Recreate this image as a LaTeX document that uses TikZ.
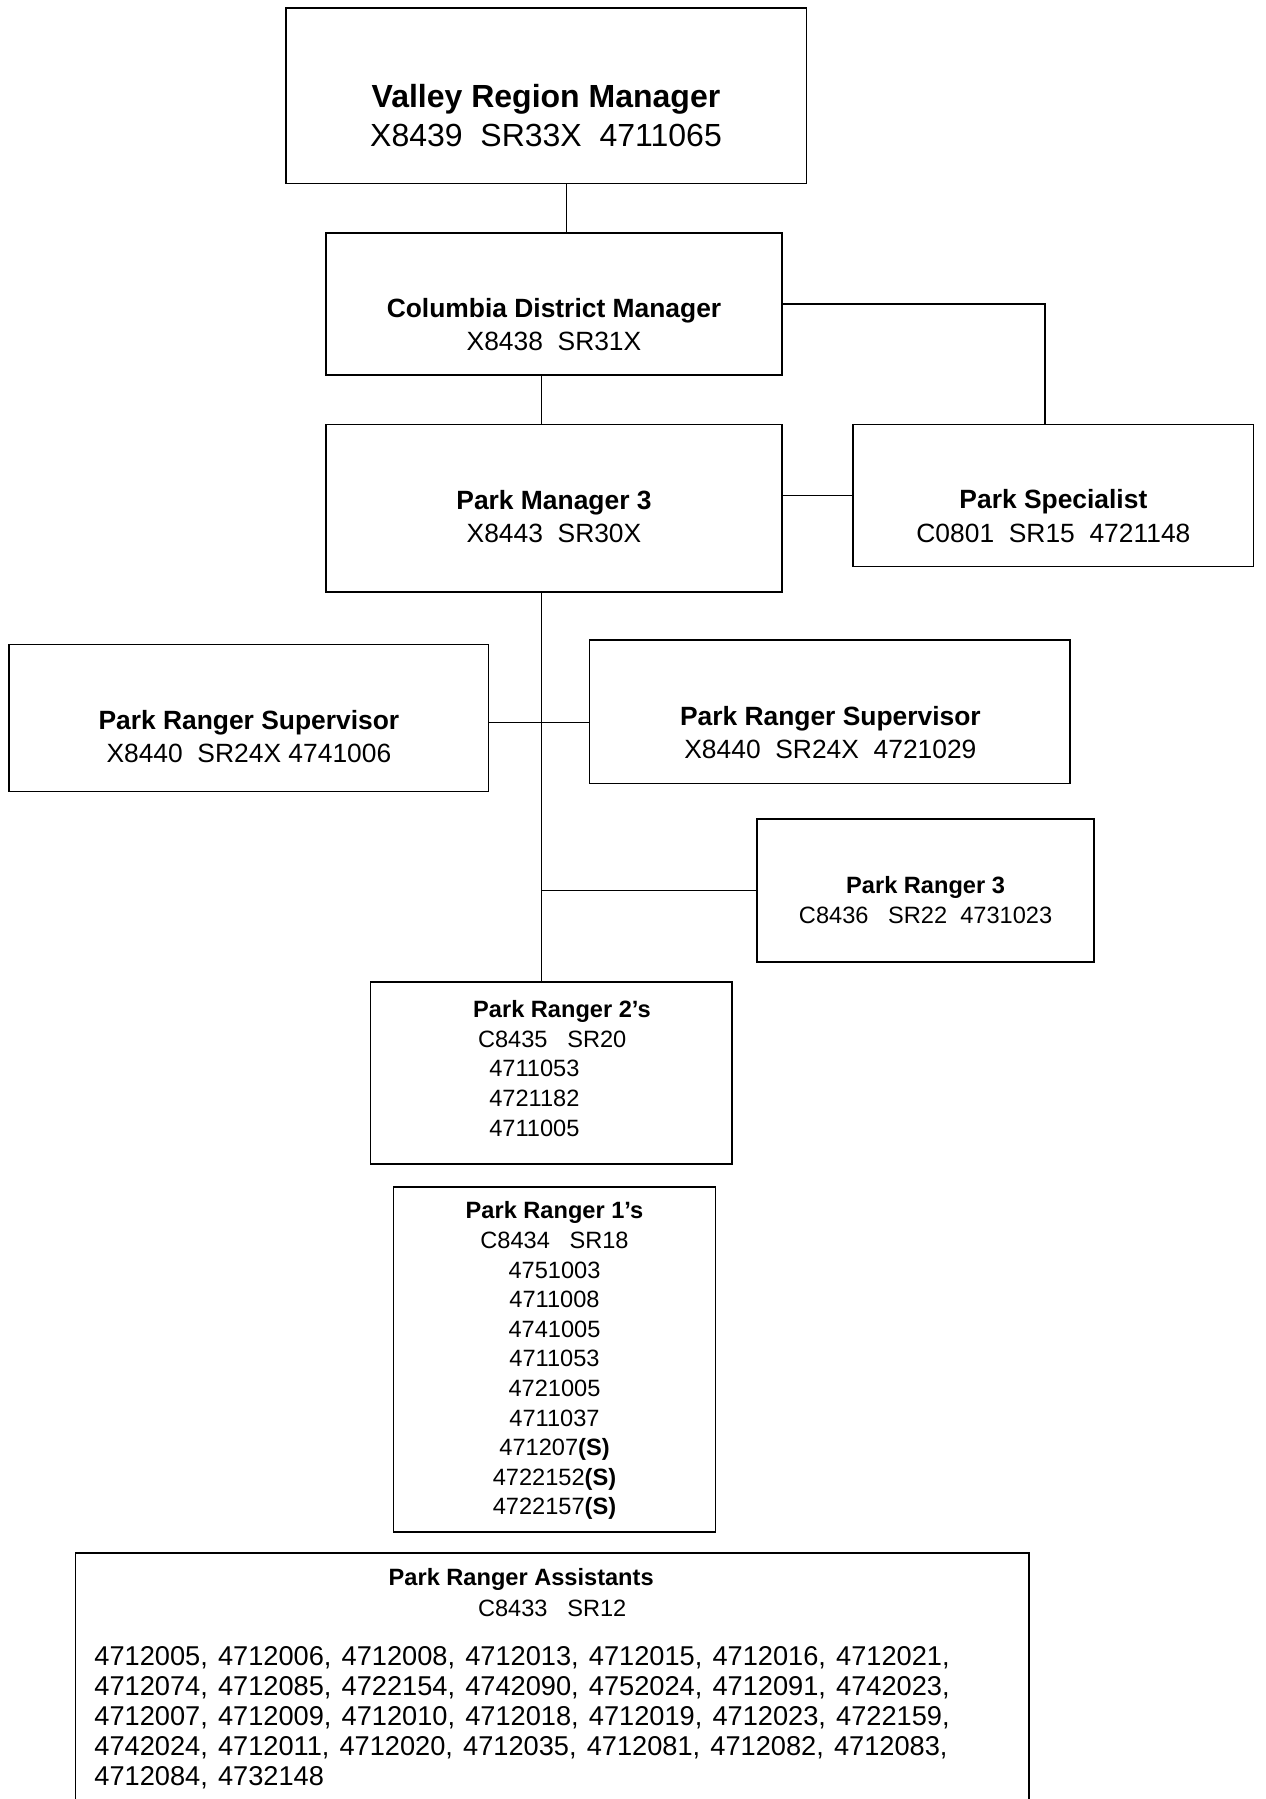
\documentclass[tikz,border=0pt]{standalone}
\usepackage{fontspec}
\setmainfont{Liberation Sans}
\usepackage{tikz}

\begin{document}
\begin{tikzpicture}[x=1pt,y=-1pt]
\tikzstyle{box}=[draw,rectangle,line width=0.8pt,inner sep=0pt]
\tikzstyle{edge}=[draw,line width=0.8pt]
\tikzstyle{bigtext}=[inner sep=0pt,align=center,font=\fontsize{16}{19.5}\selectfont]
\tikzstyle{midtext}=[inner sep=0pt,align=center,font=\fontsize{13.2}{16.7}\selectfont]
\tikzstyle{smalltext}=[inner sep=0pt,align=center,font=\fontsize{11.8}{14.8}\selectfont]
\tikzstyle{listtext}=[inner sep=0pt,align=left,font={\fontsize{13.6}{14.93}\selectfont\spaceskip=5.1pt\relax}]
\useasboundingbox (0,0) rectangle (632.5,899.5);
\foreach \name/\cx/\cy/\w/\h in {vrm/273.0/47.9/260.3/87.8,cdm/277.0/152.0/228.2/71.1,
  pm3/277.0/254.05/228.2/83.7,ps/526.7/247.75/200.2/71.1,prsl/124.45/359.0/239.7/73.4,
  prsr/414.9/355.85/240.3/71.7,pr3/462.8/445.25/168.6/71.7,pr2/275.55/536.5/180.7/91.2,
  pr1/277.25/679.8/161.1/172.6,pra/276.1/843.2/476.6/133.6}
  \node[box,minimum width=\w pt,minimum height=\h pt] (\name) at (\cx,\cy) {};
% texts
\node[bigtext] (vrmt) at (273.0,57.9) {\textbf{Valley Region Manager}\\X8439\ \ SR33X\ \ 4711065};
\node[midtext] (cdmt) at (277.0,162.3) {\textbf{Columbia District Manager}\\X8438\ \ SR31X};
\node[midtext] (pm3t) at (277.0,258.3) {\textbf{Park Manager 3}\\X8443\ \ SR30X};
\node[midtext] (pst) at (526.7,258.0) {\textbf{Park Specialist}\\C0801\ \ SR15\ \ 4721148};
\node[midtext] (prslt) at (124.45,368.4) {\textbf{Park Ranger Supervisor}\\X8440\ \ SR24X 4741006};
\node[midtext] (prsrt) at (415.2,366.2) {\textbf{Park Ranger Supervisor}\\X8440\ \ SR24X\ \ 4721029};
\node[smalltext] (pr3t) at (462.8,449.9) {\textbf{Park Ranger 3}\\C8436\ \ \ SR22\ \ 4731023};
\node[smalltext] (pr2t) at (281.0,534.2) {\textbf{Park Ranger 2’s}\\C8435\ \ \ SR20\hspace*{9.8pt}\mbox{}\\
  4711053\hspace*{27.6pt}\mbox{}\\4721182\hspace*{27.6pt}\mbox{}\\4711005\hspace*{27.6pt}\mbox{}};
\node[smalltext] (pr1t) at (277.25,680.4) {\textbf{Park Ranger 1’s}\\C8434\ \ \ SR18\\4751003\\4711008\\
  4741005\\4711053\\4721005\\4711037\\471207\textbf{(S)}\\4722152\textbf{(S)}\\4722157\textbf{(S)}};
\node[smalltext] (prat) at (260.6,789.5) {\textbf{Park Ranger Assistants}};
\node[smalltext] (prac) at (276.1,804.3) {C8433\ \ \ SR12};
\node[listtext,anchor=west] (pral) at (47.0,858.9) {4712005, 4712006, 4712008, 4712013, 4712015, 4712016, 4712021,\\
  4712074, 4712085, 4722154, 4742090, 4752024, 4712091, 4742023,\\
  4712007, 4712009, 4712010, 4712018, 4712019, 4712023, 4722159,\\
  4742024, 4712011, 4712020, 4712035, 4712081, 4712082, 4712083,\\
  4712084, 4732148};
% connectors
\coordinate (vrmx) at (283.3,0);
\coordinate (spine) at (270.7,0);
\coordinate (psx) at (522.4,0);
\coordinate (prsy) at (0,361.3);
\path[edge] (vrm.south -| vrmx) to (cdm.north -| vrmx);
\path[edge] (cdm.south -| spine) to (pm3.north -| spine);
\path[edge] (cdm.east) -- (cdm.east -| psx) -- (ps.north -| psx);
\path[edge] (ps.west -| pm3.east) to (ps.west);
\path[edge] (pm3.south -| spine) to (pr2.north -| spine);
\path[edge] (prsl.east |- prsy) to (prsr.west |- prsy);
\path[edge] (pr3.west -| spine) to (pr3.west);
\end{tikzpicture}
\end{document}
